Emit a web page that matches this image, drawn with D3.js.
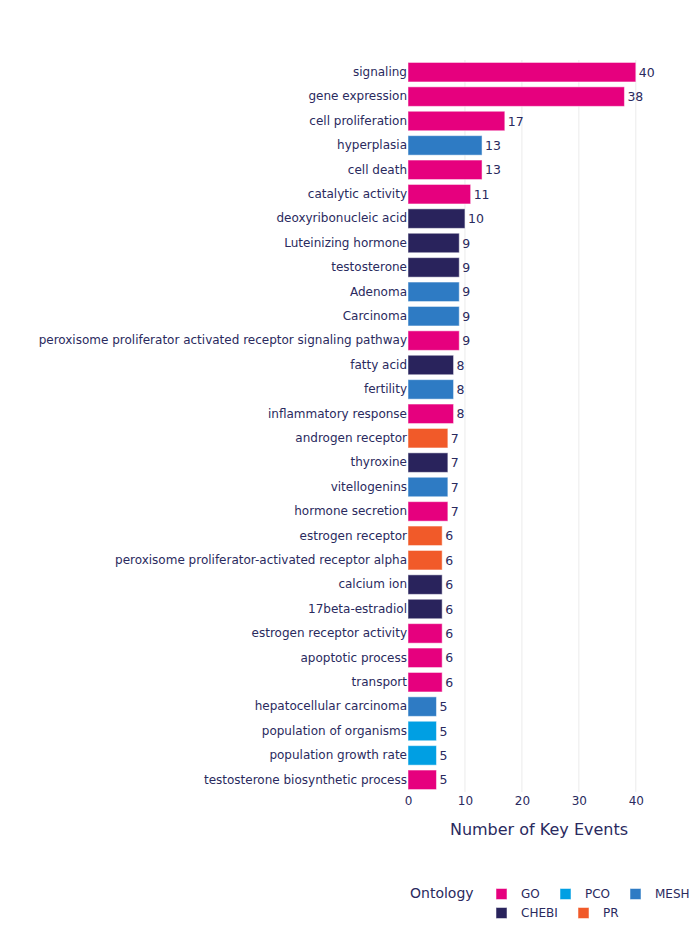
<!DOCTYPE html>
<html>
<head>
<meta charset="utf-8">
<script src="https://cdn.jsdelivr.net/npm/d3@7"></script>
<style>
  body { margin: 0; background: #fff; }
  text { font-family: "DejaVu Sans", verdana, arial, sans-serif; }
</style>
</head>
<body>
<div id="chart"></div>
<script>
const terms = [
  "signaling", "gene expression", "cell proliferation", "hyperplasia", "cell death",
  "catalytic activity", "deoxyribonucleic acid", "Luteinizing hormone", "testosterone",
  "Adenoma", "Carcinoma", "peroxisome proliferator activated receptor signaling pathway",
  "fatty acid", "fertility", "inflammatory response", "androgen receptor", "thyroxine",
  "vitellogenins", "hormone secretion", "estrogen receptor",
  "peroxisome proliferator-activated receptor alpha", "calcium ion", "17beta-estradiol",
  "estrogen receptor activity", "apoptotic process", "transport",
  "hepatocellular carcinoma", "population of organisms", "population growth rate",
  "testosterone biosynthetic process"
];
const counts = [40, 38, 17, 13, 13, 11, 10, 9, 9, 9, 9, 9, 8, 8, 8, 7, 7, 7, 7, 6, 6, 6, 6, 6, 6, 6, 5, 5, 5, 5];
const ontologies = [
  "GO", "GO", "GO", "MESH", "GO", "GO", "CHEBI", "CHEBI", "CHEBI", "MESH", "MESH", "GO",
  "CHEBI", "MESH", "GO", "PR", "CHEBI", "MESH", "GO", "PR", "PR", "CHEBI", "CHEBI",
  "GO", "GO", "GO", "MESH", "PCO", "PCO", "GO"
];
const legendOrder = ["GO", "PCO", "MESH", "CHEBI", "PR"];
const legendColors = ["#e6007e", "#009fe3", "#2e7bc4", "#29235c", "#f15a29"];
const xTicks = [0, 10, 20, 30, 40];

const W = 700, H = 940;
const margin = { top: 60, left: 408, right: 30, bottom: 148 };
const ink = "#2a2a5e";
const font = '"DejaVu Sans", verdana, arial, sans-serif';

const svg = d3.select("#chart").append("svg")
  .attr("width", W).attr("height", H);

// axis range runs a little past 40 to leave room for the value labels
const x = d3.scaleLinear().domain([0, 46]).range([margin.left, W - margin.right]);
const y = d3.scaleBand().domain(terms)
  .range([margin.top, H - margin.bottom]).paddingInner(0.2).paddingOuter(0.1);
const color = d3.scaleOrdinal().domain(legendOrder).range(legendColors);

// gridlines
svg.append("g")
  .selectAll("line")
  .data(xTicks.slice(1))
  .join("line")
  .attr("x1", d => x(d)).attr("x2", d => x(d))
  .attr("y1", margin.top).attr("y2", H - margin.bottom)
  .attr("stroke", "#ebebeb").attr("stroke-width", 1);

// bars
svg.append("g")
  .selectAll("rect")
  .data(terms)
  .join("rect")
  .attr("x", x(0))
  .attr("y", d => y(d))
  .attr("width", (d, i) => x(counts[i]) - x(0))
  .attr("height", y.bandwidth())
  .attr("fill", (d, i) => color(ontologies[i]))
  .attr("stroke", "rgba(255,255,255,0.5)")
  .attr("stroke-width", 1);

// value labels
svg.append("g")
  .selectAll("text")
  .data(terms)
  .join("text")
  .attr("x", (d, i) => x(counts[i]) + 3)
  .attr("y", d => y(d) + y.bandwidth() / 2)
  .attr("dy", "0.36em")
  .attr("fill", ink)
  .style("font-size", "12.5px")
  .text((d, i) => counts[i]);

// y axis labels
const yAxis = svg.append("g")
  .attr("transform", `translate(${x(0)},0)`)
  .call(d3.axisLeft(y).tickSize(0).tickPadding(1));
yAxis.select(".domain").remove();
yAxis.selectAll("text").attr("fill", ink).style("font-size", "12px")
  .style("font-family", font);

// x axis
const xAxis = svg.append("g")
  .attr("transform", `translate(0,${H - margin.bottom})`)
  .call(d3.axisBottom(x).tickValues(xTicks).tickSize(0).tickPadding(4));
xAxis.select(".domain").remove();
xAxis.selectAll("text").attr("fill", ink).style("font-size", "12px")
  .style("font-family", font);

svg.append("text")
  .attr("x", (margin.left + W - margin.right) / 2)
  .attr("y", 829)
  .attr("dy", "0.36em")
  .attr("text-anchor", "middle")
  .attr("fill", ink)
  .style("font-size", "16px")
  .text("Number of Key Events");

// legend
const legend = svg.append("g");
legend.append("text")
  .attr("x", 410).attr("y", 893).attr("dy", "0.36em")
  .attr("fill", ink).style("font-size", "14px")
  .text("Ontology");

const legendPos = [
  { x: 496, y: 894 }, { x: 560, y: 894 }, { x: 630, y: 894 },
  { x: 496, y: 913 }, { x: 578, y: 913 }
];
const items = legend.selectAll(".item")
  .data(legendOrder)
  .join("g")
  .attr("class", "item")
  .attr("transform", (d, i) => `translate(${legendPos[i].x},${legendPos[i].y})`);
items.append("rect")
  .attr("x", 0).attr("y", -5.5).attr("width", 11).attr("height", 11)
  .attr("fill", d => color(d))
  .attr("stroke", "rgba(255,255,255,0.5)");
items.append("text")
  .attr("x", 25).attr("dy", "0.36em")
  .attr("fill", ink).style("font-size", "12px")
  .text(d => d);
</script>
</body>
</html>
